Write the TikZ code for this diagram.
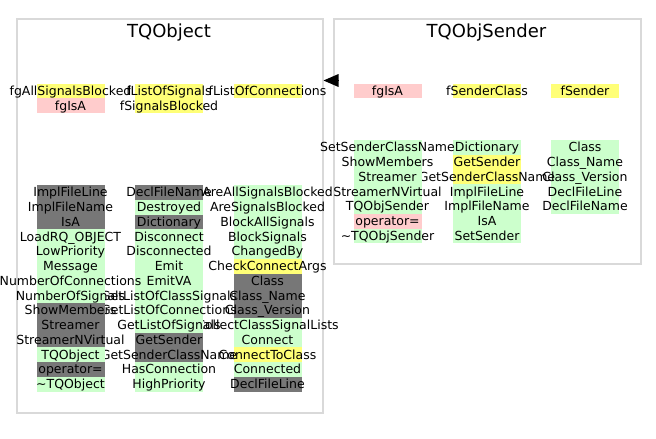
\documentclass[tikz,border=0pt]{standalone}
\usepackage{fontspec}
\setmainfont{DejaVu Sans}
\usetikzlibrary{arrows.meta}
\definecolor{pg}{HTML}{CCFFCC}
\definecolor{py}{HTML}{FFFF77}
\definecolor{pp}{HTML}{FFCCCC}
\definecolor{pd}{HTML}{777777}
\definecolor{frame}{HTML}{D9D9D9}
\tikzset{
  mem/.style={anchor=base,inner sep=0pt,font=\fontsize{12.5}{14}\selectfont},
  ttl/.style={anchor=base,inner sep=0pt,font=\fontsize{18}{20}\selectfont},
  classbox/.style={draw=frame,line width=1.5pt,fill=white,inner sep=0pt},
  inharrow/.style={-{Triangle[length=15pt,width=13pt]},line width=0pt,black},
}
\newcommand{\memcol}[4]{%
  \foreach \c/\t [count=\i from 0] in {#4} {
    \fill[fill=\c] (#2-34, #3+\i*14.75) rectangle (#2+34, #3+\i*14.75+14.75);
    \node[mem] (#1\i) at (#2, #3+\i*14.75+11.9) {\t};
  }}
\begin{document}
\begin{tikzpicture}[x=1pt,y=-1pt]
\useasboundingbox (0,0) rectangle (656,439);
% class frames
\node[classbox,minimum width=306pt,minimum height=394pt,anchor=north west] (obj) at (16,18) {};
\node[classbox,minimum width=307pt,minimum height=245pt,anchor=north west] (snd) at (333,18) {};
\node[ttl] (objtitle) at (169,37.5) {TQObject};
\node[ttl] (sndtitle) at (486.5,37.5) {TQObjSender};
% TQObject data members
\memcol{od3}{267.5}{83.5}{py/fListOfConnections}
\memcol{od2}{169}{83.5}{py/fListOfSignals, py/fSignalsBlocked}
\memcol{od1}{70.5}{83.5}{py/fgAllSignalsBlocked, pp/fgIsA}
% TQObject methods
\memcol{om3}{267.5}{185}{pg/AreAllSignalsBlocked, pg/AreSignalsBlocked, pg/BlockAllSignals, pg/BlockSignals, pg/ChangedBy, py/CheckConnectArgs, pd/Class, pd/Class\_Name, pd/Class\_Version, pg/CollectClassSignalLists, pg/Connect, py/ConnectToClass, pg/Connected, pd/DeclFileLine}
\memcol{om2}{169}{185}{pd/DeclFileName, pg/Destroyed, pd/Dictionary, pg/Disconnect, pg/Disconnected, pg/Emit, pg/EmitVA, pg/GetListOfClassSignals, pg/GetListOfConnections, pg/GetListOfSignals, pd/GetSender, pd/GetSenderClassName, pg/HasConnection, pg/HighPriority}
\memcol{om1}{70.5}{185}{pd/ImplFileLine, pd/ImplFileName, pd/IsA, pg/LoadRQ\_OBJECT, pg/LowPriority, pg/Message, pg/NumberOfConnections, pg/NumberOfSignals, pd/ShowMembers, pd/Streamer, pd/StreamerNVirtual, pg/TQObject, pd/operator=, pg/\textasciitilde TQObject}
% TQObjSender data members
\memcol{sd3}{585}{83.5}{py/fSender}
\memcol{sd2}{487}{83.5}{py/fSenderClass}
\memcol{sd1}{387.5}{83.5}{pp/fgIsA}
% TQObjSender methods
\memcol{sm3}{585}{140}{pg/Class, pg/Class\_Name, pg/Class\_Version, pg/DeclFileLine, pg/DeclFileName}
\memcol{sm2}{487}{140}{pg/Dictionary, py/GetSender, py/GetSenderClassName, pg/ImplFileLine, pg/ImplFileName, pg/IsA, pg/SetSender}
\memcol{sm1}{387.5}{140}{pg/SetSenderClassName, pg/ShowMembers, pg/Streamer, pg/StreamerNVirtual, pg/TQObjSender, pp/operator=, pg/\textasciitilde TQObjSender}
% inheritance arrow
\coordinate (arrbase) at (337,80.5);
\draw[inharrow] (arrbase) -- (obj.east |- arrbase);
\end{tikzpicture}
\end{document}
